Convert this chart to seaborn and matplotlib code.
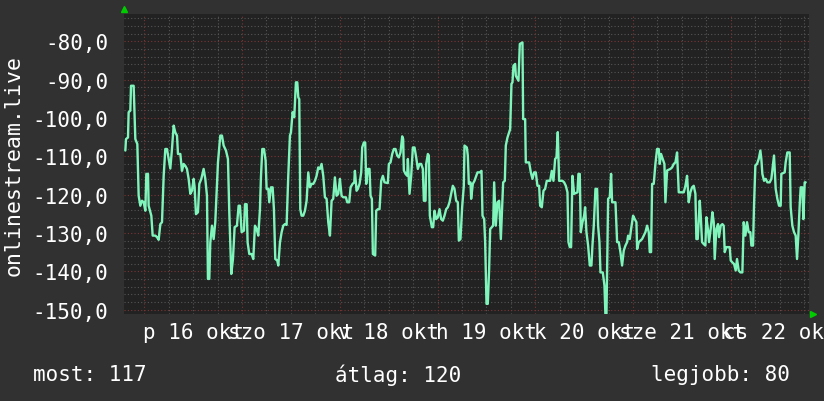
import numpy as np
import pandas as pd
import matplotlib
matplotlib.use("Agg")
import matplotlib.pyplot as plt
import seaborn as sns

# ---- data: hours since 16 okt 00:00, and values ----
seg1_h = [-4.65, -4.49, -4.0, -3.84, -3.43, -3.26, -2.61, -2.44, -2.2, -1.71, -1.38, -0.97, -0.56, -0.15,
          0.26, 0.5, 0.91, 1.07, 1.73, 2.06, 2.71, 3.12, 3.53, 3.94, 4.35, 4.76, 5.16, 5.57, 5.98, 6.39,
          6.8, 7.21, 7.62, 8.03, 8.27, 8.85, 9.25, 9.66, 10.07, 10.48, 10.89, 11.3, 11.71, 12.12, 12.36,
          12.69, 13.18, 13.51, 14.0, 14.57, 14.98, 15.39, 15.63, 15.96, 16.21, 16.62, 17.03, 17.43, 18.09,
          18.66, 19.07, 19.48, 20.05, 20.54, 20.87, 21.36, 21.77, 22.18, 22.75, 23.16]
seg1_v = [-108.5, -105.5, -105.1, -98.5, -98.1, -91.6, -91.6, -97.7, -105.5, -106.8, -120.3, -122.9, -121.6,
          -122.0, -124.2, -114.6, -114.6, -122.9, -125.5, -130.7, -130.7, -131.1, -131.8, -127.7, -127.2,
          -115.1, -108.1, -108.1, -110.7, -113.2, -108.1, -102.0, -103.8, -104.6, -109.4, -109.4, -113.8,
          -112.0, -112.5, -113.3, -115.9, -119.8, -119.0, -115.9, -118.1, -125.1, -124.6, -117.2, -115.9,
          -113.3, -115.9, -120.3, -142.0, -142.0, -132.5, -128.1, -131.6, -127.2, -111.6, -104.6, -104.6,
          -107.2, -108.5, -110.7, -124.6, -140.7, -136.8, -128.5, -128.1, -122.9]

seg2_h = [23.49, 23.9, 24.47, 24.72, 25.13, 25.37, 25.78, 26.35, 26.76, 27.17, 27.58, 27.99, 28.4, 28.64,
          28.97, 29.38, 29.79, 30.03, 30.44, 30.69, 31.1, 31.51, 31.83, 32.16, 32.65, 32.9, 33.31, 33.72,
          34.12, 34.53, 34.94, 35.35, 35.76, 36.01, 36.41, 36.82, 37.23, 37.56, 37.81, 38.05, 38.3, 38.62,
          39.03, 39.44, 39.85, 40.26, 40.67, 41.08, 41.49, 41.9, 42.3, 42.71, 43.12, 43.53, 43.94, 44.35,
          44.76, 45.17, 45.58, 45.99, 46.39, 46.8, 47.21, 47.62, 48.03, 48.44, 48.85, 49.5, 49.83, 50.32,
          50.65, 51.14, 51.55, 51.71, 52.12]
seg2_v = [-122.9, -129.8, -129.4, -122.5, -122.5, -132.5, -135.5, -135.5, -136.8, -128.1, -129.0, -130.7,
          -123.8, -115.5, -108.1, -108.1, -111.1, -118.5, -118.5, -122.0, -118.1, -118.1, -123.8, -136.8,
          -137.2, -138.5, -132.5, -129.8, -128.1, -127.7, -127.9, -115.1, -104.6, -103.8, -98.5, -99.8,
          -90.7, -90.7, -94.6, -95.1, -123.8, -125.5, -125.5, -124.2, -121.6, -114.2, -118.1, -117.2,
          -117.2, -116.4, -115.1, -112.9, -113.3, -112.0, -115.1, -120.7, -121.1, -127.2, -130.7, -121.6,
          -121.1, -115.5, -120.3, -119.8, -115.9, -120.3, -120.7, -120.7, -122.0, -122.0, -118.1, -117.2,
          -116.8, -113.8, -119.0]

seg3_h = [52.44, 52.85, 53.26, 53.5, 53.91, 54.24, 54.49, 54.89, 55.3, 55.55, 55.88, 56.12, 56.69, 56.94,
          57.35, 57.76, 58.17, 58.58, 58.98, 59.8, 60.05, 60.46, 60.87, 61.27, 61.68, 62.09, 62.5, 62.91,
          63.32, 63.56, 63.73, 64.14, 64.55, 64.71, 65.12, 65.53, 65.94, 66.35, 66.76, 67.16, 67.57, 67.98,
          68.39, 68.64, 69.05, 69.21, 69.62, 69.86, 70.11, 70.6, 70.93, 71.25, 71.66, 72.07, 72.48, 72.89,
          73.3, 73.71, 74.12, 74.53, 74.94, 75.34, 75.75, 76.16, 76.57, 76.98, 77.23, 77.63, 78.04, 78.45,
          78.62, 79.19, 79.43, 79.68, 80.09, 80.25, 80.66, 81.07]
seg3_v = [-118.5, -117.2, -114.2, -107.7, -106.4, -106.4, -117.2, -113.3, -113.3, -120.3, -121.1, -135.5,
          -135.9, -124.2, -123.8, -123.8, -116.4, -115.1, -116.8, -117.0, -112.0, -111.6, -109.4, -108.1,
          -108.1, -109.8, -110.3, -109.0, -104.8, -105.5, -113.7, -114.6, -115.1, -110.7, -119.8, -115.1,
          -107.7, -107.7, -110.3, -113.3, -112.0, -112.0, -113.3, -121.6, -121.6, -112.0, -109.4, -109.8,
          -125.5, -128.5, -128.5, -124.2, -126.4, -125.9, -123.8, -126.4, -126.8, -125.5, -123.8, -123.3,
          -122.0, -119.8, -117.7, -118.5, -121.6, -122.0, -132.0, -131.6, -123.3, -117.7, -107.2, -107.7,
          -109.8, -117.2, -116.8, -121.1, -117.2, -116.4]

seg4_h = [81.81, 82.38, 82.79, 83.04, 83.45, 83.69, 84.02, 84.34, 84.67, 84.92, 85.33, 85.65, 85.9, 86.31,
          86.72, 87.13, 87.54, 87.78, 88.11, 88.52, 88.76, 89.17, 89.58, 89.83, 90.15, 90.4, 90.64, 91.05,
          91.22, 91.63, 91.87, 92.2, 92.85, 93.02, 93.51, 93.67, 94.49, 94.9, 95.31, 95.72, 96.12, 96.53,
          96.94, 97.19, 97.6, 98.01, 98.41, 98.82, 99.64, 100.05, 100.46, 100.87, 101.2, 101.52, 101.85,
          102.67, 103.08, 103.49, 103.9, 104.14, 104.47, 104.79, 105.12, 105.53, 106.35, 106.59, 106.92,
          107.17, 107.58, 107.99, 108.23, 108.56, 108.97, 109.38, 109.78, 110.03]
seg4_v = [-114.2, -114.2, -113.8, -125.5, -126.4, -132.4, -148.5, -148.5, -139.4, -129.0, -128.5, -128.1,
          -116.8, -128.1, -122.0, -121.6, -131.6, -125.5, -116.8, -116.4, -107.2, -105.1, -103.7, -102.9,
          -91.1, -90.7, -86.4, -85.9, -89.0, -89.8, -90.3, -80.7, -80.3, -100.3, -100.3, -111.6, -111.6,
          -114.2, -115.9, -114.2, -114.2, -117.7, -117.7, -122.9, -123.3, -119.0, -118.5, -116.4, -116.4,
          -113.8, -116.4, -110.7, -110.3, -103.7, -116.4, -116.4, -116.8, -117.7, -119.4, -132.4, -133.7,
          -133.7, -115.1, -119.8, -119.4, -114.6, -114.6, -129.8, -127.2, -125.5, -123.3, -129.8, -133.3,
          -138.5, -138.5, -133.3]

seg5_h = [110.36, 110.77, 111.18, 111.42, 111.75, 112.0, 112.57, 112.98, 113.22, 113.47, 113.63, 113.88,
          114.29, 114.61, 114.86, 115.68, 116.09, 116.5, 116.9, 117.31, 117.72, 118.13, 118.54, 118.79,
          119.2, 119.52, 120.01, 120.42, 120.83, 121.0, 121.4, 122.22, 122.63, 123.04, 123.45, 123.86,
          124.1, 124.43, 124.68, 125.08, 125.49, 125.9, 126.31, 126.56, 126.88, 127.29, 127.7, 127.95,
          128.36, 129.17, 129.58, 129.99, 130.4, 130.81, 131.22, 132.45, 132.86, 133.26, 133.67, 134.08,
          134.49, 134.9, 135.31, 135.55, 135.88]
seg5_v = [-128.1, -118.5, -118.5, -128.1, -132.4, -140.3, -140.3, -143.7, -151.5, -151.5, -139.4, -121.1,
          -120.7, -114.6, -122.0, -122.0, -132.4, -132.4, -135.0, -138.5, -134.6, -133.3, -132.4, -130.7,
          -131.6, -129.0, -125.5, -126.4, -127.2, -134.2, -132.4, -131.6, -130.7, -129.8, -128.1, -129.8,
          -135.0, -135.0, -117.2, -117.2, -112.0, -108.1, -108.1, -112.0, -109.4, -110.7, -112.0, -122.0,
          -113.7, -113.3, -112.9, -112.0, -111.6, -109.0, -119.4, -119.4, -117.7, -115.1, -122.0, -119.4,
          -118.1, -117.7, -119.8, -131.6, -131.6]

seg6_h = [136.37, 136.62, 136.94, 137.35, 137.76, 138.01, 138.42, 138.66, 139.07, 139.48, 139.81, 140.05,
          140.46, 140.87, 141.11, 141.52, 141.93, 142.26, 142.51, 142.91, 143.73, 143.98, 144.39, 144.8,
          145.2, 145.53, 145.94, 146.35, 146.84, 147.17, 147.58, 147.99, 148.39, 148.8, 149.05, 149.46,
          149.7, 150.03, 150.44, 150.85, 151.26, 151.5, 151.75, 152.16, 152.57, 152.98, 153.55, 153.96,
          154.2, 154.61, 155.02, 155.43, 155.84, 156.25, 156.41, 157.23, 157.47, 157.88, 158.46, 158.7,
          159.11, 159.52, 159.93, 160.26, 160.58, 160.91, 161.16, 161.57, 161.81, 162.14, 162.38]
seg6_v = [-121.6, -125.5, -132.4, -132.9, -133.3, -125.9, -129.4, -132.4, -128.9, -124.6, -127.2, -136.8,
          -128.9, -127.7, -131.1, -128.1, -127.7, -128.1, -135.0, -133.7, -133.7, -137.2, -137.7, -138.1,
          -139.8, -136.8, -139.8, -140.3, -140.3, -127.2, -130.7, -127.2, -129.8, -129.8, -133.3, -133.3,
          -122.9, -112.4, -112.0, -110.7, -108.5, -110.7, -114.6, -116.4, -115.9, -116.8, -116.8, -115.9,
          -113.7, -109.8, -118.5, -121.1, -122.9, -122.9, -114.6, -114.2, -111.6, -109.0, -109.0, -123.3,
          -128.1, -129.8, -130.7, -136.8, -130.7, -122.9, -118.1, -118.1, -126.4, -116.8, -116.8]

day_labels = ["p 16 okt", "szo 17 okt", "v 18 okt", "h 19 okt", "k 20 okt", "sze 21 okt", "cs 22 okt"]
label_hours = [12, 36, 60, 84, 108, 132, 156]
y_ticks = [-80, -90, -100, -110, -120, -130, -140, -150]
y_title = "onlinestream.live"
legend_texts = ["most: 117", "átlag: 120", "legjobb: 80"]

# ---- style ----
sns.set_theme(style="dark")
plt.rcParams["font.family"] = ["DejaVu Sans Mono", "DejaVu Sans"]

BG = "#313131"
PLOT_BG = "#222222"
LINE = "#7ff5bb"
MINOR = "#555555"
MAJOR = "#7a3535"
TXT = "#ffffff"

hours = np.concatenate([seg1_h, seg2_h, seg3_h, seg4_h, seg5_h, seg6_h])
values = np.concatenate([seg1_v, seg2_v, seg3_v, seg4_v, seg5_v, seg6_v])
df = pd.DataFrame({"hour": hours, "value": values})

fig = plt.figure(figsize=(8.24, 4.02), dpi=100, facecolor=BG)
ax = fig.add_axes([124 / 824, 87 / 402, 685 / 824, 300 / 402])
ax.set_facecolor(PLOT_BG)

xmin, xmax = -4.98, 163.2
ymin, ymax = -151.15, -72.88

dot = (0, (1, 2))
for h in np.arange(-0, 168, 6):
    if h % 24:
        ax.axvline(h, color=MINOR, lw=0.8, ls=dot, zorder=1)
for v in np.arange(-152, -72, 2):
    if v % 10:
        ax.axhline(v, color=MINOR, lw=0.8, ls=dot, zorder=1)
for h in np.arange(0, 168, 24):
    ax.axvline(h, color=MAJOR, lw=0.8, ls=dot, zorder=2)
for v in y_ticks:
    ax.axhline(v, color=MAJOR, lw=0.8, ls=dot, zorder=2)

sns.lineplot(data=df, x="hour", y="value", color=LINE, linewidth=1.7,
             estimator=None, sort=False, ax=ax, zorder=5)

ax.set_xlim(xmin, xmax)
ax.set_ylim(ymin, ymax)
ax.grid(False)
for s in ax.spines.values():
    s.set_visible(False)

ax.set_yticks(y_ticks)
ax.set_yticklabels([f"{v:.1f}".replace(".", ",") for v in y_ticks])
ax.set_xticks(label_hours)
ax.set_xticklabels(day_labels)
ax.tick_params(axis="y", length=0, pad=11.5, labelsize=15, labelcolor=TXT)
ax.tick_params(axis="x", length=0, pad=5.5, labelsize=15, labelcolor=TXT)
ax.set_xlabel("")
ax.set_ylabel("")

fig.text(14 / 824, 1 - 165 / 402, y_title, rotation=90, ha="center", va="center",
         fontsize=15.5, color=TXT)

ly = 1 - 375 / 402
fig.text(33 / 824, ly, legend_texts[0], ha="left", va="center", fontsize=15, color=TXT)
fig.text(398 / 824, ly, legend_texts[1], ha="center", va="center", fontsize=15, color=TXT)
fig.text(790 / 824, ly, legend_texts[2], ha="right", va="center", fontsize=15, color=TXT)

# axis arrows
ax.plot([124 / 824], [1 - 10 / 402], marker="^", markersize=5, color="#00cc00",
        transform=fig.transFigure, clip_on=False, zorder=10)
ax.plot([813 / 824], [87 / 402], marker=">", markersize=5, color="#00cc00",
        transform=fig.transFigure, clip_on=False, zorder=10)

fig.savefig("out.png", dpi=100, facecolor=BG)
